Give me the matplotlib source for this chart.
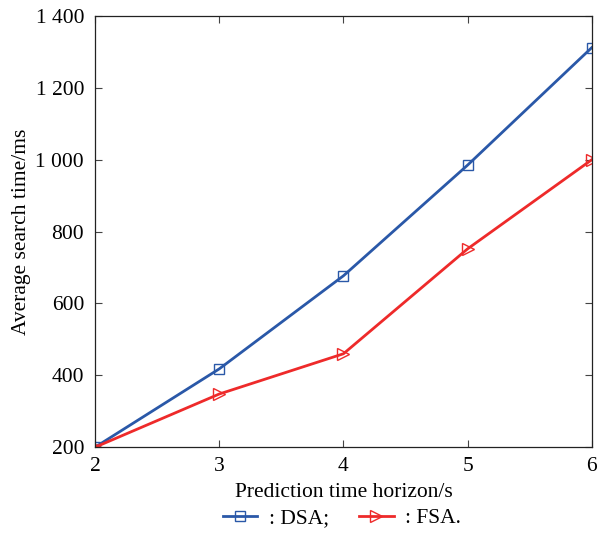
import matplotlib
matplotlib.use("Agg")
import matplotlib.pyplot as plt
from matplotlib.ticker import FuncFormatter

x = [2, 3, 4, 5, 6]
dsa = [200, 418, 677, 985, 1312]
fsa = [200, 348, 460, 752, 1000]
yticks = [200, 400, 600, 800, 1000, 1200, 1400]

plt.rcParams['font.family'] = ['Liberation Serif', 'DejaVu Serif']
fs = 15.5

fig = plt.figure(figsize=(6.02, 5.33), dpi=100)
ax = fig.add_axes([0.158, 0.161, 0.825, 0.809])

ax.plot(x, dsa, color='#2a58a8', lw=2.0, marker='s', ms=7, mfc='none', mew=1.0, label=': DSA;')
ax.plot(x, fsa, color='#ee2a2a', lw=2.0, marker='>', ms=8, mfc='none', mew=1.0, label=': FSA.')

ax.set_xlim(2, 6)
ax.set_ylim(200, 1400)
ax.set_xticks(x)
ax.set_yticks(yticks)
ax.yaxis.set_major_formatter(FuncFormatter(lambda v, p: f"{int(v):,}".replace(",", " ")))
ax.tick_params(direction='in', top=True, right=True, length=5, width=0.8,
               color='#444444', labelsize=fs)
ax.tick_params(axis='x', pad=7)
ax.tick_params(axis='y', pad=8)
for s in ax.spines.values():
    s.set_linewidth(0.9)
    s.set_color('#222222')
ax.set_xlabel('Prediction time horizon/s', fontsize=fs, labelpad=5)
ax.set_ylabel('Average search time/ms', fontsize=fs, labelpad=3)
fig.legend(*ax.get_legend_handles_labels(), loc='center', bbox_to_anchor=(0.568, 0.028),
           ncol=2, frameon=False, fontsize=fs, handlelength=1.6, columnspacing=1.4,
           handletextpad=0.55, borderaxespad=0, borderpad=0)

fig.savefig('out.png', dpi=100)
